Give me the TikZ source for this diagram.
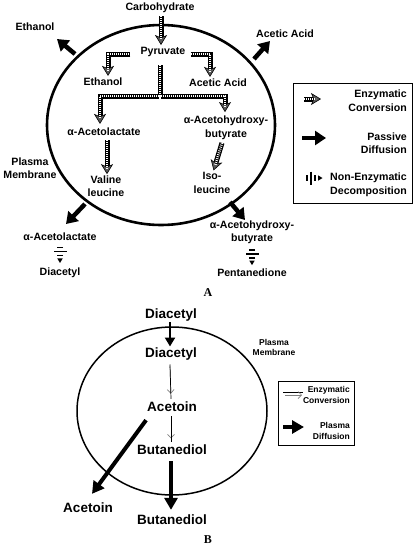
\documentclass[tikz,border=0pt]{standalone}
\usepackage{fontspec}
\setmainfont{Liberation Sans}
\newfontfamily\serifbf{Liberation Serif}
\usetikzlibrary{arrows.meta,calc}
\tikzset{
  lblA/.style={font=\fontsize{10.6}{13.5}\selectfont\bfseries, align=center, inner sep=0pt},
  lgA/.style={lblA, align=right, anchor=east},
  lblB/.style={font=\fontsize{13.5}{16}\selectfont\bfseries, align=center, inner sep=0pt},
  smB/.style={font=\fontsize{8.5}{10.5}\selectfont\bfseries, align=center, inner sep=0pt},
  lgB/.style={smB, align=right, anchor=east},
  panel/.style={font=\fontsize{12}{14}\selectfont\serifbf\bfseries, inner sep=0pt},
  membA/.style={line width=2.6pt},
  membB/.style={line width=1.5pt},
  enzplain/.style={line width=5pt, postaction={draw=white, line width=2.6pt, dash pattern=on 0.8pt off 1.2pt}},
  enz/.style={line width=5pt, shorten >=#1,
    -{Stealth[length=10pt,width=12pt,inset=2.5pt,line width=0.6pt,fill=black!65]},
    postaction={draw=white, line width=2.6pt, dash pattern=on 0.8pt off 1.2pt, arrows=-, shorten >=#1+5pt}},
  enz/.default=0pt,
  pas/.style={line width=4.5pt, -{Triangle[length=11pt,width=14pt]}},
  pasB/.style={line width=4pt, -{Triangle[length=12pt,width=13pt]}},
  pasBs/.style={line width=2.5pt, -{Triangle[length=9pt,width=10pt]}},
  enzBline/.style={line width=0.7pt},
  enzBbarb/.style={line width=0.7pt, black!50, -{Straight Barb[length=3.5pt,width=7pt]}},
  legbox/.style={draw, inner sep=0pt},
  nonenz/.pic={
    \draw[line width=1.9pt] (-7,-3) -- (-7,3);
    \draw[line width=1.9pt] (-3,-6.5) -- (-3,6.5);
    \draw[line width=1.9pt] (1,-3) -- (1,3);
    \fill (4,-2.7) -- (8.5,0) -- (4,2.7) -- cycle;
  }
}
\begin{document}
\begin{tikzpicture}[x=1pt,y=-1pt]
\useasboundingbox (0,0) rectangle (417,550);
% ================= Panel A =================
\draw[membA] (161,125) ellipse [x radius=114, y radius=100];
\node[lblA] (carb) at (160,8) {Carbohydrate};
\node[lblA] (pyr) at (163,52) {Pyruvate};
\node[lblA] (ethIn) at (103,82) {Ethanol};
\node[lblA] (acIn) at (218,83) {Acetic Acid};
\node[lblA] (acl) at (104,132) {α-Acetolactate};
\node[lblA] (ahb) at (226,128) {α-Acetohydroxy-\\butyrate};
\node[lblA] (val) at (106,186) {Valine\\leucine};
\node[lblA] (iso) at (212,183) {Iso-\\leucine};
\node[lblA] (ethOut) at (35,27) {Ethanol};
\node[lblA] (acOut) at (285,34) {Acetic Acid};
\node[lblA] (pm) at (30,168) {Plasma\\Membrane};
\node[lblA] (aclOut) at (60,237) {α-Acetolactate};
\node[lblA] (dia) at (60,273) {Diacetyl};
\node[lblA] (ahbOut) at (252,232.5) {α-Acetohydroxy-\\butyrate};
\node[lblA] (pent) at (252,273) {Pentanedione};
\node[panel] (pA) at (208,293) {A};

% enzymatic conversions
\draw[enz=2pt] ([xshift=1pt,yshift=-3pt]carb.south) -- ([xshift=-2pt]pyr.north);
\draw[enz=2pt] ([xshift=-10pt,yshift=-2pt]pyr.west) -| ([xshift=5pt]ethIn.north);
\draw[enz=2pt] ([xshift=5pt,yshift=-2pt]pyr.east) -| ([xshift=-8pt]acIn.north);
\coordinate (branch) at (160,96);
\draw[enzplain] ([xshift=-3pt,yshift=-8pt]pyr.south) -- (branch);
\draw[enz=4pt] ([xshift=-1pt]branch) -| ([xshift=-4pt]acl.north);
\draw[enz=4pt] ([xshift=1pt]branch) -| ([xshift=-1pt]ahb.north);
\draw[enz=1pt] ([xshift=3pt,yshift=-4pt]acl.south) -- ([xshift=1pt]val.north);
\draw[enz=2pt] ([xshift=-4pt,yshift=-3pt]ahb.south) -- ([xshift=1pt]iso.north);

% passive diffusion
\coordinate (pe1) at (75,54);  \coordinate (pe2) at (57,39);
\coordinate (pa1) at (254,59); \coordinate (pa2) at (270,41);
\coordinate (pl1) at (85,204); \coordinate (pl2) at (66,224);
\coordinate (pr1) at (230,202); \coordinate (pr2) at (245,220);
\draw[pas] (pe1) -- (pe2);
\draw[pas] (pa1) -- (pa2);
\draw[pas] (pl1) -- (pl2);
\draw[pas] (pr1) -- (pr2);

% non-enzymatic decomposition
\pic[rotate=-90] at ($(aclOut.south)!0.5!(dia.north)$) {nonenz};
\pic[rotate=-90] at ($(ahbOut.south)!0.5!(pent.north)$) {nonenz};

% legend A
\node[legbox, line width=1pt, minimum width=119pt, minimum height=120pt] (legA) at (352.5,143) {};
\node[lgA] (lgt1) at (407,100.5) {Enzymatic\\Conversion};
\node[lgA] (lgt2) at (407,143) {Passive\\Diffusion};
\node[lgA] (lgt3) at (407,185) {Non-Enzymatic\\Decomposition};
\coordinate (le1) at (304,99); \coordinate (le2) at (321,99);
\draw[enz] (le1) -- (le2);
\coordinate (lp1) at (302,138); \coordinate (lp2) at (326,138);
\draw[pas] (lp1) -- (lp2);
\pic at (314,178) {nonenz};

% ================= Panel B =================
\draw[membB] (172,411) ellipse [x radius=95, y radius=84];
\node[lblB] (diaOut) at (171,315) {Diacetyl};
\node[lblB] (diaIn) at (171,354) {Diacetyl};
\node[lblB] (acet) at (172,407) {Acetoin};
\node[lblB] (but) at (172,450) {Butanediol};
\node[lblB] (acetOut) at (88,508) {Acetoin};
\node[lblB] (butOut) at (172,520) {Butanediol};
\node[smB] (pmB) at (274,347.5) {Plasma\\Membrane};
\node[panel] (pB) at (208,540) {B};

\draw[pasBs] ([xshift=-1pt,yshift=-1pt]diaOut.south) -- ([xshift=-1pt,yshift=1pt]diaIn.north);
% enzymatic (B)
\draw[enzBbarb] ([xshift=-1pt,yshift=-6pt]diaIn.south) -- ($([xshift=-1pt]diaIn.south)!0.8!([xshift=-1pt]acet.north)$);
\draw[enzBline] ([xshift=-1pt,yshift=-4pt]diaIn.south) -- ([xshift=-1pt,yshift=3pt]acet.north);
\draw[enzBbarb] ([xshift=-1pt,yshift=-6pt]acet.south) -- ($([xshift=-1pt]acet.south)!0.8!([xshift=-1pt]but.north)$);
\draw[enzBline] ([xshift=-1pt,yshift=-4pt]acet.south) -- ([xshift=-1pt,yshift=3pt]but.north);
% passive (B)
\draw[pasB] ([xshift=-1pt,yshift=-8pt]acet.south west) -- ([xshift=4pt,yshift=9pt]acetOut.north);
\draw[pasB] ([xshift=-1pt,yshift=-6pt]but.south) -- ([xshift=-1pt,yshift=5pt]butOut.north);

% legend B
\node[legbox, line width=0.8pt, minimum width=76pt, minimum height=64pt] (legB) at (316,413) {};
\node[lgB] (lbt1) at (350,395) {Enzymatic\\Conversion};
\node[lgB] (lbt2) at (350,431) {Plasma\\Diffusion};
\coordinate (lbe1) at (283,392); \coordinate (lbe2) at (303,392);
\coordinate (lbe3) at (285,395); \coordinate (lbe4) at (302,395);
\draw[enzBline] (lbe1) -- (lbe2);
\draw[enzBbarb] (lbe3) -- (lbe4);
\coordinate (lbp1) at (283,427); \coordinate (lbp2) at (304,427);
\draw[pasB] (lbp1) -- (lbp2);
\end{tikzpicture}
\end{document}
